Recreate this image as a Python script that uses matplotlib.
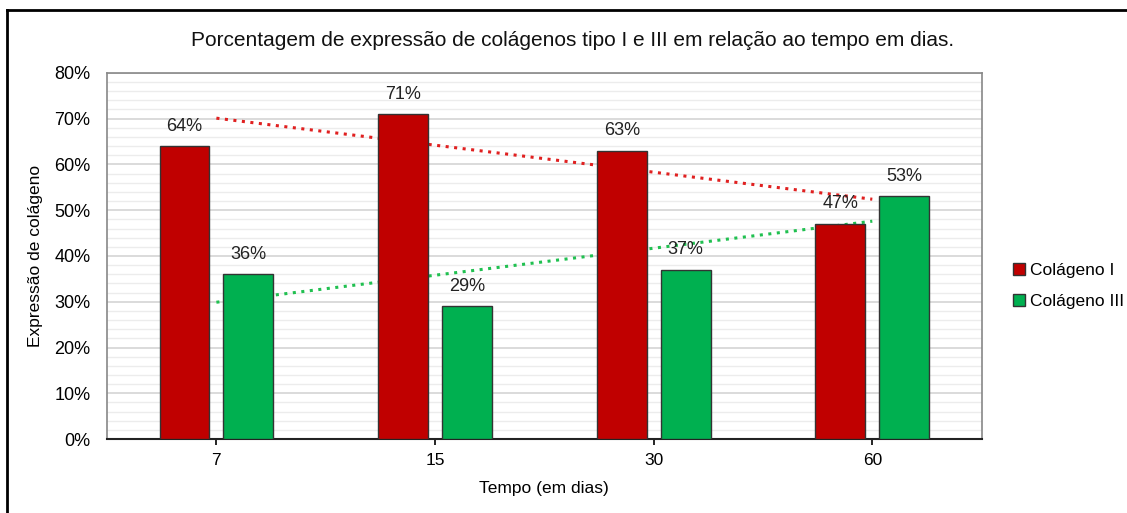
import numpy as np
import matplotlib
matplotlib.use("Agg")
import matplotlib.pyplot as plt
from matplotlib.lines import Line2D

# data
dias = ["7", "15", "30", "60"]
colageno_i = [64, 71, 63, 47]
colageno_iii = [36, 29, 37, 53]
series_names = ["Colágeno I", "Colágeno III"]

plt.rcParams['font.family'] = ['Liberation Sans', 'DejaVu Sans']

fig = plt.figure(figsize=(11.27, 5.13), dpi=100)
ax = fig.add_axes([0.095, 0.144, 0.776, 0.714])

x = np.arange(len(dias))
w = 0.228
off = 0.146
red = "#c00000"
green = "#00b050"

b1 = ax.bar(x - off, colageno_i, w, color=red, edgecolor="#333333", linewidth=1, zorder=3, label=series_names[0])
b2 = ax.bar(x + off, colageno_iii, w, color=green, edgecolor="#333333", linewidth=1, zorder=3, label=series_names[1])

# linear trend lines
for vals, c in [(colageno_i, "#e02020"), (colageno_iii, "#20c050")]:
    k, b = np.polyfit(x, vals, 1)
    ax.plot(x, k * x + b, linestyle=(0, (1, 1.8)), color=c, linewidth=2.2, zorder=2)

for bars, vals in [(b1, colageno_i), (b2, colageno_iii)]:
    for r, v in zip(bars, vals):
        ax.text(r.get_x() + r.get_width() / 2, v + 2.5, f"{v}%", ha="center", va="bottom", fontsize=13, color="#222222", zorder=4)

ax.set_xlim(-0.5, len(dias) - 0.5)
ax.set_ylim(0, 80)
ax.set_xticks(x)
ax.set_xticklabels(dias, fontsize=12.5)
ax.set_yticks(range(0, 81, 10))
ax.set_yticklabels([f"{v}%" for v in range(0, 81, 10)], fontsize=13)
ax.set_yticks(range(0, 81, 2), minor=True)
ax.tick_params(axis="y", which="both", length=0, pad=12)
ax.tick_params(axis="x", length=4, width=1.2, direction="out", pad=6)
ax.grid(axis="y", which="minor", color="#ececec", linewidth=1, zorder=0)
ax.grid(axis="y", which="major", color="#d4d4d4", linewidth=1.2, zorder=0)
ax.set_axisbelow(True)

for s in ["left", "top", "right"]:
    ax.spines[s].set_color("#888888")
    ax.spines[s].set_linewidth(1.2)
ax.spines["bottom"].set_color("#222222")
ax.spines["bottom"].set_linewidth(1.5)

ax.set_xlabel("Tempo (em dias)", fontsize=12.5, labelpad=9)
ax.set_ylabel("Expressão de colágeno", fontsize=12.5, labelpad=8)
fig.text(0.508, 0.922, "Porcentagem de expressão de colágenos tipo I e III em relação ao tempo em dias.",
         ha="center", va="center", fontsize=15, color="#111111")

ax.legend(loc="center left", bbox_to_anchor=(1.03, 0.418), frameon=False, fontsize=12.5,
          handlelength=0.7, handleheight=0.7, handletextpad=0.3, labelspacing=0.9,
          borderpad=0, borderaxespad=0.3)

# outer frame lines (top and left)
fig.add_artist(Line2D([0.006, 1.0], [0.98, 0.98], color="black", linewidth=2, transform=fig.transFigure))
fig.add_artist(Line2D([0.006, 0.006], [0.0, 0.98], color="black", linewidth=2, transform=fig.transFigure))

fig.savefig("out.png", dpi=100)
